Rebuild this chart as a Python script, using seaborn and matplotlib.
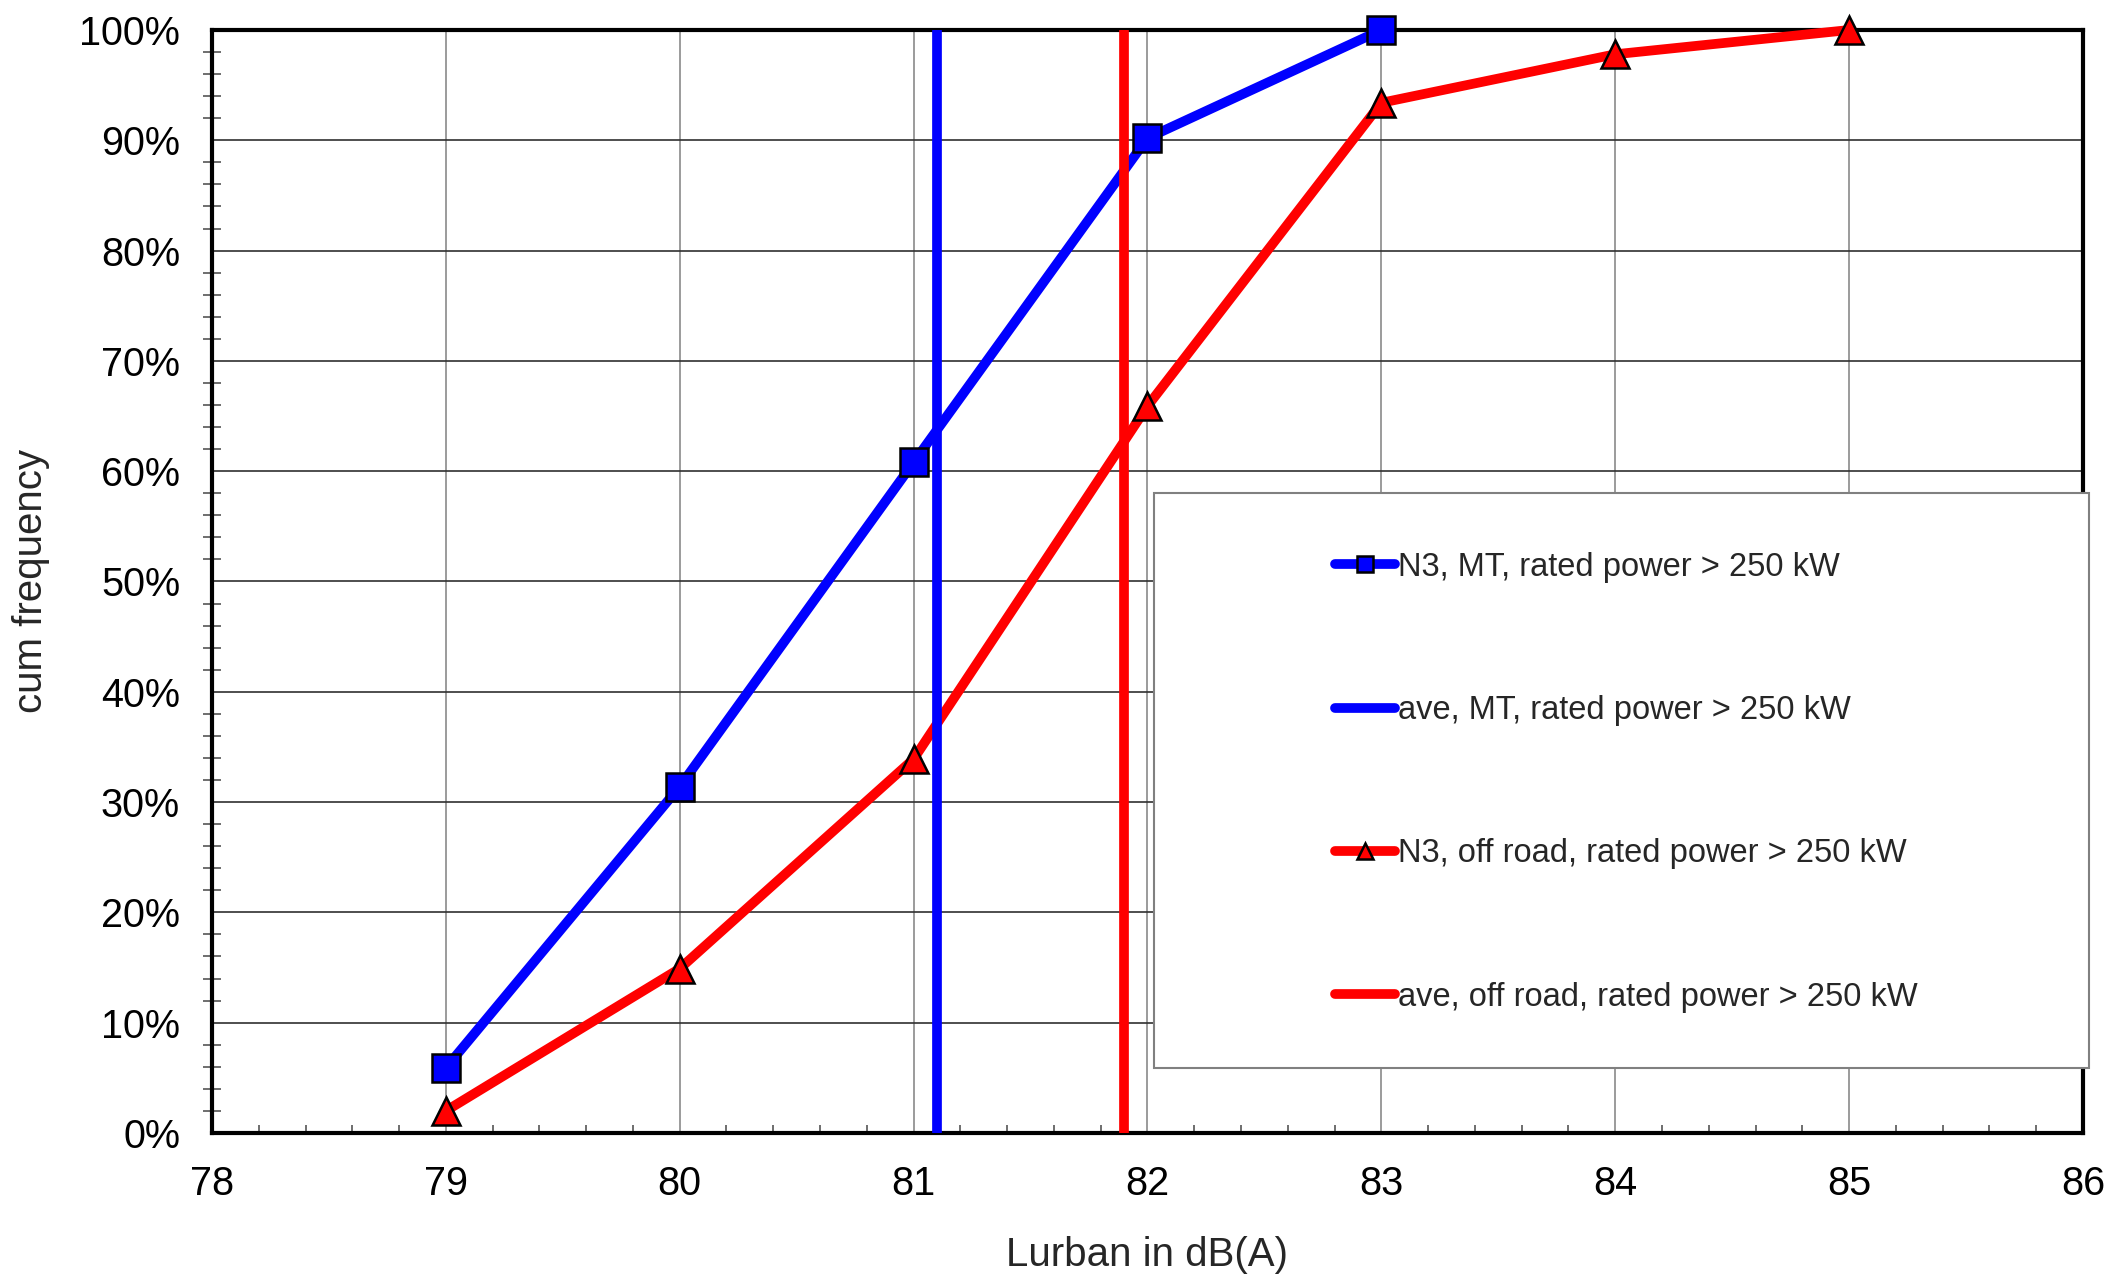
import matplotlib
matplotlib.use('Agg')
import matplotlib.pyplot as plt
from matplotlib import font_manager
from matplotlib.patches import Rectangle
from matplotlib.ticker import PercentFormatter, MultipleLocator
import pandas as pd
import seaborn as sns

# cumulative frequency of Lurban, in percent
lurban_mt = [79, 80, 81, 82, 83]
cum_mt = [5.9, 31.4, 60.8, 90.2, 100.0]
lurban_off = [79, 80, 81, 82, 83, 84, 85]
cum_off = [2.0, 14.9, 33.9, 65.9, 93.4, 97.8, 100.0]

# averages
ave_mt = 81.1
ave_off = 81.9

labels = ['N3, MT, rated power > 250 kW',
          'ave, MT, rated power > 250 kW',
          'N3, off road, rated power > 250 kW',
          'ave, off road, rated power > 250 kW']

x_ticks = [78, 79, 80, 81, 82, 83, 84, 85, 86]
y_ticks = [0, 10, 20, 30, 40, 50, 60, 70, 80, 90, 100]

sns.set_style('white')
plt.rcParams['font.family'] = ['Liberation Sans', 'DejaVu Sans']

# narrow font for the legend if we have it
try:
    font_manager.findfont('Liberation Sans Narrow', fallback_to_default=False)
    leg_font = {'family': 'Liberation Sans Narrow', 'size': 28.5}
except ValueError:
    leg_font = {'family': 'Liberation Sans', 'size': 23.5}

df_mt = pd.DataFrame({'x': lurban_mt, 'y': cum_mt})
df_off = pd.DataFrame({'x': lurban_off, 'y': cum_off})

fig = plt.figure(figsize=(21.07, 12.77), dpi=100)
ax = fig.add_subplot(111)
fig.subplots_adjust(left=0.1006, right=0.9886, top=0.9765, bottom=0.1128)

blue = '#0000FF'
red = '#FF0000'
lw = 7

sns.lineplot(data=df_mt, x='x', y='y', ax=ax, color=blue, lw=lw,
             marker='s', markersize=19.5, markerfacecolor=blue,
             markeredgecolor='black', markeredgewidth=1.8,
             label=labels[0], zorder=5, clip_on=False)
ax.axvline(ave_mt, color=blue, lw=lw, label=labels[1], zorder=5.5)
sns.lineplot(data=df_off, x='x', y='y', ax=ax, color=red, lw=lw,
             marker='^', markersize=20, markerfacecolor=red,
             markeredgecolor='black', markeredgewidth=1.8,
             label=labels[2], zorder=5, clip_on=False)
ax.axvline(ave_off, color=red, lw=lw, label=labels[3], zorder=5.5)

ax.set_xlim(78, 86)
ax.set_ylim(0, 100)
ax.set_xticks(x_ticks)
ax.set_yticks(y_ticks)
ax.xaxis.set_minor_locator(MultipleLocator(0.2))
ax.yaxis.set_minor_locator(MultipleLocator(2))
ax.yaxis.set_major_formatter(PercentFormatter(100, decimals=0))

ax.tick_params(axis='both', which='major', direction='inout', length=18,
               width=1.5, colors='black', labelsize=28.5, pad=14)
ax.tick_params(axis='y', which='minor', direction='inout', length=13,
               width=1.2, colors='#555555', left=True)
ax.tick_params(axis='x', which='minor', direction='in', length=6,
               width=1.2, colors='#555555', bottom=True)
ax.tick_params(axis='x', which='major', pad=14)

ax.grid(True, axis='y', which='major', color='#303030', lw=1.2)
ax.grid(True, axis='x', which='major', color='#8a8a8a', lw=1.2)
for s in ax.spines.values():
    s.set_color('black')
    s.set_linewidth(3)

ax.set_xlabel('Lurban in dB(A)', fontsize=29, labelpad=24)
ax.set_ylabel('cum frequency', fontsize=29, labelpad=21)

# legend box
box = Rectangle((0.5035, 0.0589), 0.4997, 0.5211, transform=ax.transAxes,
                facecolor='white', edgecolor='#808080', lw=1.5,
                clip_on=False, zorder=6)
ax.add_patch(box)

handles, labs = ax.get_legend_handles_labels()
leg = ax.legend(handles, labs, loc='upper left', bbox_to_anchor=(0.5913, 0.5416),
                frameon=False, prop=leg_font, handlelength=1.85,
                handletextpad=0.08, labelspacing=3.44, borderpad=0,
                markerscale=0.6, numpoints=1)
leg.set_zorder(7)

fig.savefig('out.png', dpi=100, facecolor='white')
